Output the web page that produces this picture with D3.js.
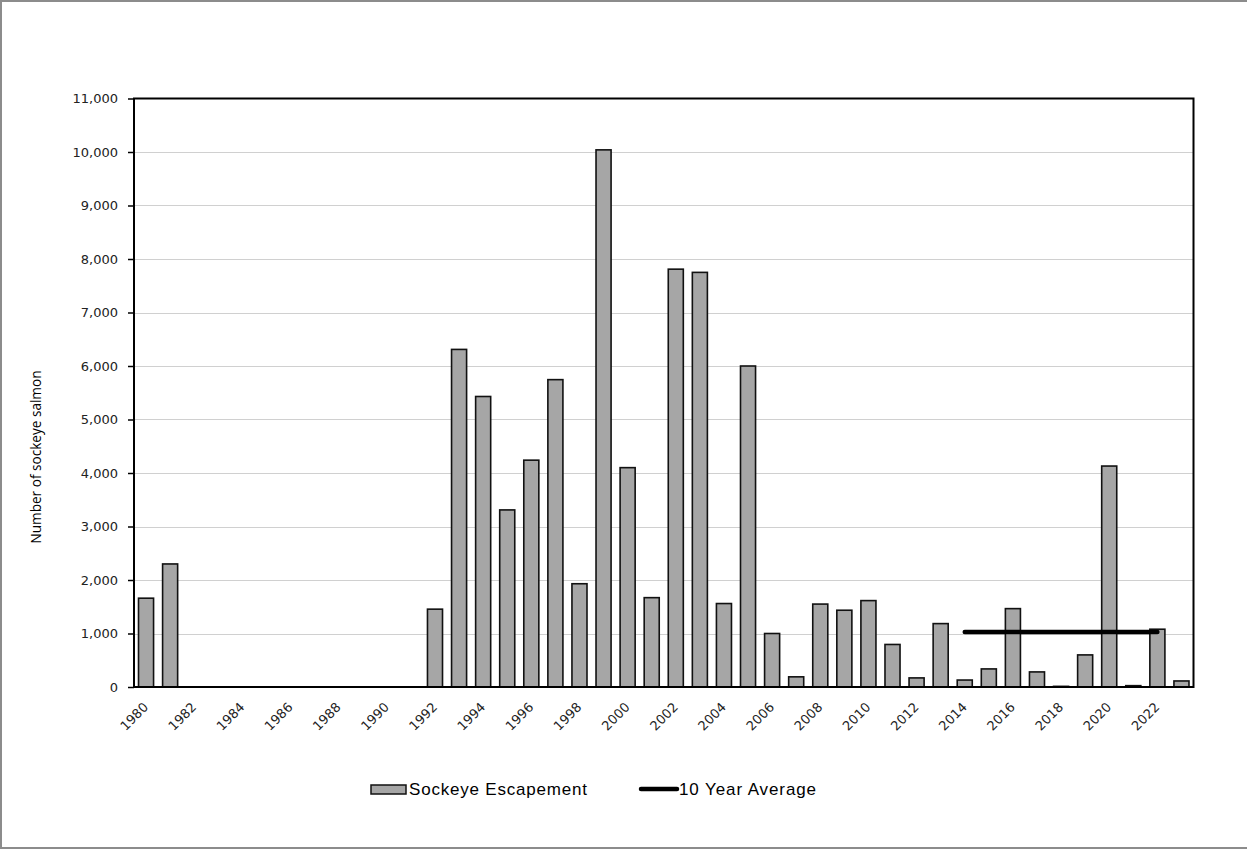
<!DOCTYPE html>
<html>
<head>
<meta charset="utf-8">
<script src="https://cdn.jsdelivr.net/npm/d3@7"></script>
<style>
  html, body { margin: 0; padding: 0; background: #fff; }
  svg { display: block; }
</style>
</head>
<body>
<svg id="chart" width="1247" height="849"></svg>
<script>
// Sockeye escapement by year (null = no count)
const years = d3.range(1980, 2024);
const escapement = [
  1660, 2300, null, null, null, null, null, null, null, null,
  null, null, 1455, 6310, 5430, 3310, 4240, 5745, 1930, 10040,
  4100, 1670, 7810, 7750, 1560, 6000, 1000, 190, 1550, 1435,
  1615, 795, 170, 1185, 130, 338, 1465, 282, 12, 600,
  4130, 25, 1080, 113
];
// 10 year average line
const avgYears = [2014, 2022];
const avgValues = [1030, 1030];
const yTicks = d3.range(0, 11001, 1000);
const xLabelYears = d3.range(1980, 2023, 2);

const svg = d3.select("#chart");
const margin = { left: 134, top: 98.5, right: 1193.5, bottom: 687 };

// outer frame
svg.append("rect")
  .attr("x", 1).attr("y", 1)
  .attr("width", 1260).attr("height", 847)
  .attr("fill", "none").attr("stroke", "#8c8c8c").attr("stroke-width", 2);

const x = d3.scaleBand()
  .domain(years)
  .range([margin.left, margin.right])
  .paddingInner(0.375)
  .paddingOuter(0.1875);

const y = d3.scaleLinear()
  .domain([0, 11000])
  .range([margin.bottom, margin.top]);

// gridlines
svg.append("g")
  .selectAll("line")
  .data(yTicks.filter(d => d > 0 && d < 11000))
  .join("line")
  .attr("x1", margin.left).attr("x2", margin.right)
  .attr("y1", d => Math.round(y(d)) + 0.5).attr("y2", d => Math.round(y(d)) + 0.5)
  .attr("stroke", "#d0d0d0").attr("stroke-width", 1);

// y axis
const yAxis = svg.append("g")
  .attr("transform", `translate(${margin.left},0)`)
  .call(d3.axisLeft(y).tickValues(yTicks).tickFormat(d3.format(",")).tickSize(6).tickPadding(10));
yAxis.select(".domain").remove();
yAxis.selectAll(".tick line").attr("stroke", "#000").attr("stroke-width", 1.5);
yAxis.selectAll(".tick text")
  .attr("font-family", "'DejaVu Sans', Verdana, sans-serif")
  .attr("font-size", 13)
  .attr("fill", "#222");

// bars
svg.append("g")
  .selectAll("rect")
  .data(years.map((yr, i) => ({ yr, v: escapement[i] })).filter(d => d.v != null))
  .join("rect")
  .attr("x", d => x(d.yr))
  .attr("y", d => y(d.v))
  .attr("width", x.bandwidth())
  .attr("height", d => y(0) - y(d.v))
  .attr("fill", "#a6a6a6")
  .attr("stroke", "#111")
  .attr("stroke-width", 1.6);

// plot frame
svg.append("rect")
  .attr("x", margin.left).attr("y", margin.top)
  .attr("width", margin.right - margin.left)
  .attr("height", margin.bottom - margin.top)
  .attr("fill", "none").attr("stroke", "#000").attr("stroke-width", 2);

// 10 year average
const line = d3.line()
  .x(d => x(d.yr) + x.bandwidth() / 2)
  .y(d => y(d.v));
svg.append("path")
  .datum(avgYears.map((yr, i) => ({ yr, v: avgValues[i] })))
  .attr("d", line)
  .attr("fill", "none")
  .attr("stroke", "#000")
  .attr("stroke-width", 4.5)
  .attr("stroke-linecap", "round");

// x labels, rotated
svg.append("g")
  .selectAll("text")
  .data(xLabelYears)
  .join("text")
  .attr("transform", d => `translate(${x(d) + x.bandwidth() / 2 + 3},${margin.bottom + 21}) rotate(-45)`)
  .attr("text-anchor", "end")
  .attr("font-family", "'DejaVu Sans', Verdana, sans-serif")
  .attr("font-size", 13)
  .attr("fill", "#222")
  .text(d => d);

// y axis title
svg.append("text")
  .attr("transform", `translate(41,457) rotate(-90)`)
  .attr("text-anchor", "middle")
  .attr("font-family", "'Open Sans', sans-serif")
  .attr("font-size", 13.6)
  .attr("fill", "#000")
  .text("Number of sockeye salmon");

// legend
const legend = svg.append("g");
legend.append("rect")
  .attr("x", 371).attr("y", 785)
  .attr("width", 35).attr("height", 9)
  .attr("fill", "#a6a6a6").attr("stroke", "#111").attr("stroke-width", 1.5);
legend.append("text")
  .attr("x", 409).attr("y", 795)
  .attr("font-family", "'Liberation Sans', Arial, sans-serif")
  .attr("font-size", 17)
  .attr("letter-spacing", 0.8)
  .attr("fill", "#000")
  .text("Sockeye Escapement");
legend.append("line")
  .attr("x1", 641).attr("x2", 677)
  .attr("y1", 789).attr("y2", 789)
  .attr("stroke", "#000").attr("stroke-width", 4.5)
  .attr("stroke-linecap", "round");
legend.append("text")
  .attr("x", 679).attr("y", 795)
  .attr("font-family", "'Liberation Sans', Arial, sans-serif")
  .attr("font-size", 17)
  .attr("letter-spacing", 0.9)
  .attr("fill", "#000")
  .text("10 Year Average");
</script>
</body>
</html>
